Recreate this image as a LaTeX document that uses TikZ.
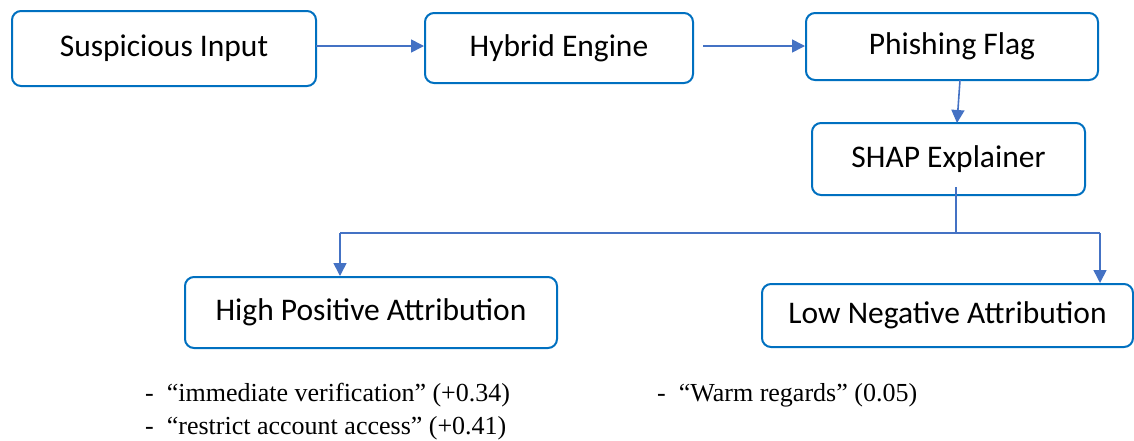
\documentclass[tikz,border=0pt]{standalone}
\usepackage{fontspec}
\setmainfont{Liberation Serif}
\newfontfamily\boxfont{Carlito}
\usetikzlibrary{arrows.meta}
\definecolor{boxblue}{RGB}{0,112,192}
\definecolor{linkblue}{RGB}{68,114,196}
\tikzset{
  flowbox/.style={draw=boxblue, line width=2pt, rounded corners=9pt, fill=white,
    inner sep=0pt, font=\boxfont\fontsize{31.5}{36}\selectfont, text=black},
  link/.style={draw=linkblue, line width=1.6pt},
  arr/.style={link, -{Triangle[length=13pt,width=13pt]}},
  note/.style={anchor=west, inner sep=0pt, font=\fontsize{26}{30}\selectfont}
}
\begin{document}
\begin{tikzpicture}[x=1pt,y=-1pt]
\useasboundingbox (0,0) rectangle (1134,440);
\node[flowbox, minimum width=304pt, minimum height=75pt] (inp) at (164,48.5) {Suspicious Input};
\node[flowbox, minimum width=268pt, minimum height=70pt] (eng) at (559,48) {Hybrid Engine};
\node[flowbox, minimum width=292pt, minimum height=67pt] (flag) at (952,46.5) {Phishing Flag};
\node[flowbox, minimum width=273pt, minimum height=72pt] (shap) at (948.5,159) {SHAP Explainer};
\node[flowbox, minimum width=372pt, minimum height=71pt] (hp) at (371,312.5) {High Positive Attribution};
\node[flowbox, minimum width=371pt, minimum height=63pt] (ln) at (947.5,315.5) {Low Negative Attribution};
\coordinate (s1) at (316,46);
\coordinate (s2) at (703,46);
\coordinate (s3) at (960,80);
\coordinate (j0) at (956,187);
\coordinate (j1) at (956,233);
\coordinate (jl) at (340,233);
\coordinate (jr) at (1100,233);
\draw[arr] (s1) -- (eng.west |- s1);
\draw[arr] (s2) -- (flag.west |- s2);
\draw[arr] (s3) -- (957,123);
\draw[link] (j0) -- (j1);
\draw[link] (jl) -- (jr);
\draw[arr] (jl) -- (jl |- hp.north);
\draw[arr] (jr) -- (1100,283);
\node[note] (n1) at (145,395) {-\ \ “immediate verification” (+0.34)};
\node[note] (n2) at (145,428) {-\ \ “restrict account access” (+0.41)};
\node[note] (n3) at (657,395) {-\ \ “Warm regards” (0.05)};
\end{tikzpicture}
\end{document}
